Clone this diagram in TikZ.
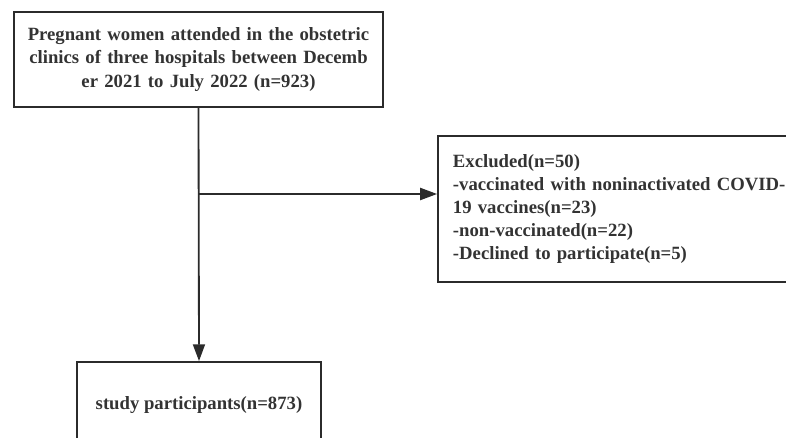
\documentclass[tikz,border=0pt]{standalone}
\usepackage{fontspec}
\setmainfont{Liberation Serif}
\usetikzlibrary{arrows.meta}

\definecolor{lineg}{HTML}{2B2B2B}
\definecolor{textg}{HTML}{333333}

\tikzset{
	box/.style={draw=lineg, line width=1.3pt, font=\bfseries\fontsize{13.3}{16.5}\selectfont, text=textg, inner sep=0pt},
	flow/.style={draw=lineg, line width=1.3pt, -{Triangle[length=0.42cm,width=0.3cm]}},
}

\begin{document}
\begin{tikzpicture}[x=0.025cm, y=-0.025cm]
	\useasboundingbox (0,0) rectangle (786,438);
	\clip (0,0) rectangle (786,438);
	\node[box, minimum width=9.225cm, minimum height=2.375cm, text width=9cm, align=center] (top) at (198.5,59.5)
		{Pregnant women attended in the obstetric clinics of three hospitals between Decemb\\er 2021 to July 2022 (n=923)};	%top box
	\node[box, minimum width=9.3cm, minimum height=3.65cm, text width=8.55cm, align=left] (excl) at (624,209)
		{Excluded(n=50)\\-vaccinated with noninactivated COVID-\\19 vaccines(n=23)\\-non-vaccinated(n=22)\\-Declined to participate(n=5)};	%right box
	\node[box, minimum width=6.1cm, minimum height=2.15cm] (part) at (199,405)
		{study participants(n=873)};	%bottom box
	\coordinate (split) at (199,194);	%branch point
	\draw[flow] (top.south) -- (part.north);	%down arrow
	\draw[flow] (split) -- (split -| excl.west);	%right arrow
\end{tikzpicture}
\end{document}
